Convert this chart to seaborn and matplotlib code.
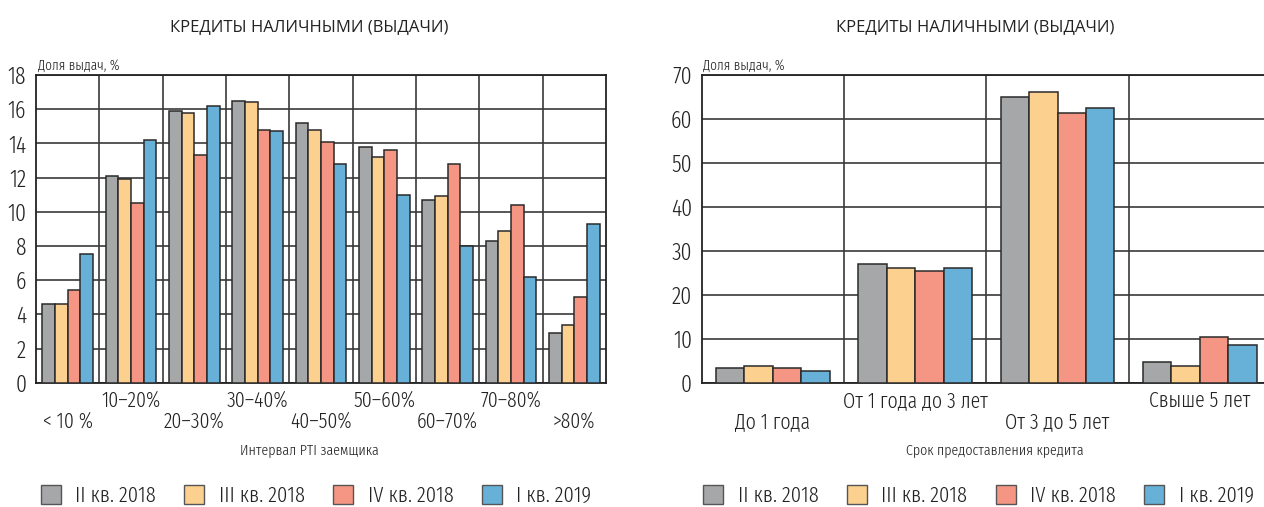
import numpy as np
import pandas as pd
import matplotlib
matplotlib.use("Agg")
import matplotlib.pyplot as plt
import seaborn as sns
from matplotlib.patches import Patch
from matplotlib.ticker import FixedLocator, MultipleLocator

# ---------------- data ----------------
series = ["II кв. 2018", "III кв. 2018", "IV кв. 2018", "I кв. 2019"]
colors = ["#A6A7A9", "#FCD08F", "#F49683", "#67B1D8"]

pti_labels = ["< 10 %", "10–20%", "20–30%", "30–40%", "40–50%",
              "50–60%", "60–70%", "70–80%", ">80%"]
pti_q2_2018 = [4.6, 12.1, 15.9, 16.5, 15.2, 13.8, 10.7, 8.3, 2.9]
pti_q3_2018 = [4.6, 11.9, 15.8, 16.4, 14.8, 13.2, 10.9, 8.9, 3.4]
pti_q4_2018 = [5.4, 10.5, 13.3, 14.8, 14.1, 13.6, 12.8, 10.4, 5.0]
pti_q1_2019 = [7.5, 14.2, 16.2, 14.7, 12.8, 11.0, 8.0, 6.2, 9.3]

term_labels = ["До 1 года", "От 1 года до 3 лет", "От 3 до 5 лет", "Свыше 5 лет"]
term_q2_2018 = [3.3, 27.1, 64.9, 4.7]
term_q3_2018 = [3.7, 26.2, 66.2, 3.8]
term_q4_2018 = [3.3, 25.3, 61.3, 10.3]
term_q1_2019 = [2.7, 26.2, 62.4, 8.6]

title_text = "КРЕДИТЫ НАЛИЧНЫМИ (ВЫДАЧИ)"
ylabel_text = "Доля выдач, %"
pti_xlabel = "Интервал PTI заемщика"
term_xlabel = "Срок предоставления кредита"

# ---------------- style ----------------
sns.set_theme(style="white")
NARROW = ["Fira Sans Extra Condensed", "DejaVu Sans"]
plt.rcParams["font.family"] = NARROW
plt.rcParams["font.weight"] = 300
TEXT = "#222222"
GRID = "#3a3a3a"


def long_df(cats, *vals):
    rows = []
    for s, v in zip(series, vals):
        for c, x in zip(cats, v):
            rows.append({"cat": c, "val": x, "series": s})
    return pd.DataFrame(rows)


def draw(ax, cats, vals, ymax, ystep, xlabel, title_x, xlabel_x, legend_x):
    df = long_df(cats, *vals)
    sns.barplot(data=df, x="cat", y="val", hue="series", order=cats,
                hue_order=series, palette=colors, saturation=1, width=0.8,
                edgecolor="#2a2a2a", linewidth=1.1, legend=False,
                ax=ax, zorder=3)
    n = len(cats)
    ax.set_xlim(-0.5, n - 0.5)
    ax.set_ylim(0, ymax)
    ax.yaxis.set_major_locator(MultipleLocator(ystep))
    ax.set_axisbelow(True)
    ax.yaxis.grid(True, color=GRID, lw=1.2)
    ax.xaxis.set_minor_locator(FixedLocator(np.arange(0.5, n - 0.5, 1.0)))
    ax.xaxis.grid(True, which="minor", color=GRID, lw=1.2)
    ax.xaxis.grid(False, which="major")
    for sp in ax.spines.values():
        sp.set_visible(True)
        sp.set_color("#222222")
        sp.set_linewidth(1.3)
    labels = [("\n" + l) if i % 2 == 0 else l for i, l in enumerate(cats)]
    ax.set_xticks(range(n))
    ax.set_xticklabels(labels, fontsize=15.5, color=TEXT, linespacing=1.0)
    ax.tick_params(axis="x", which="both", length=0, pad=5)
    ax.tick_params(axis="y", length=0, pad=7, labelsize=17, labelcolor=TEXT)
    ax.set_xlabel("")
    ax.set_ylabel("")
    ax.text(title_x, 1.156, title_text, transform=ax.transAxes, ha="center",
            va="center", fontsize=12, color=TEXT, weight="normal",
            family=["Open Sans", "DejaVu Sans"])
    ax.text(0.003, 1.03, ylabel_text, transform=ax.transAxes, ha="left",
            va="center", fontsize=10.5, color=TEXT)
    ax.text(xlabel_x, -0.218, xlabel, transform=ax.transAxes, ha="center",
            va="center", fontsize=11, color=TEXT)
    handles = [Patch(facecolor=c, edgecolor="#555555", lw=1.0) for c in colors]
    ax.legend(handles, series, loc="center", bbox_to_anchor=(legend_x, -0.368),
              ncol=4, frameon=False, fontsize=16, handlelength=0.9,
              handleheight=0.9, handletextpad=0.65, columnspacing=1.28,
              labelcolor=TEXT)


fig = plt.figure(figsize=(12.64, 5.07), dpi=100)
W, H = 1264.0, 507.0
ax1 = fig.add_axes([36 / W, 1 - 382.7 / H, 570 / W, 307.7 / H])
ax2 = fig.add_axes([701.7 / W, 1 - 382.7 / H, 569.3 / W, 307.7 / H])

draw(ax1, pti_labels, [pti_q2_2018, pti_q3_2018, pti_q4_2018, pti_q1_2019],
     18, 2, pti_xlabel, 0.48, 0.48, 0.491)
draw(ax2, term_labels, [term_q2_2018, term_q3_2018, term_q4_2018, term_q1_2019],
     70, 10, term_xlabel, 0.48, 0.514, 0.486)

fig.savefig("out.png", dpi=100, facecolor="white")
